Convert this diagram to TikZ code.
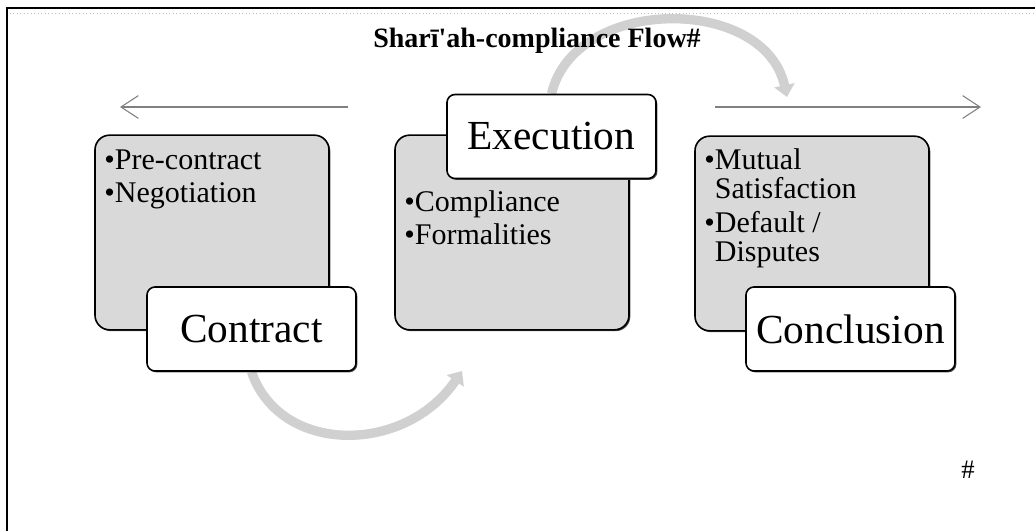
\documentclass[tikz,border=0pt]{standalone}
\usepackage{fontspec}
\setmainfont{Liberation Serif}
\usetikzlibrary{positioning,calc,shadows,arrows.meta,backgrounds}
\definecolor{boxgray}{RGB}{217,217,217}
\definecolor{arcgray}{RGB}{208,208,208}

\begin{document}
\begin{tikzpicture}[
x=0.75pt,y=-0.75pt,
stage/.style={
  draw,
  rounded corners=11pt,
  line width=1.2pt,
  fill=boxgray,
  minimum width=175.5pt,
  minimum height=146pt,
  general shadow={fill=black!70,shadow xshift=1pt,shadow yshift=-1pt}
},
tag/.style={
  draw,
  rounded corners=6pt,
  line width=1.2pt,
  fill=white,
  minimum width=156.75pt,
  minimum height=63pt,
  font=\fontsize{31}{36}\selectfont,
  general shadow={fill=black!70,shadow xshift=1pt,shadow yshift=-1pt}
},
items/.style={
  anchor=north west,
  align=left,
  inner sep=0pt,
  font=\fontsize{22.5}{25}\selectfont
},
flow/.style={line width=7pt, draw=arcgray, -{Triangle[length=9pt,width=15pt]}},
side/.style={draw=gray, line width=0.8pt, -{Straight Barb[length=13pt,width=17pt]}}
]
\useasboundingbox (0,0) rectangle (1035,531);

% frame
\draw[line width=1.5pt] (7,531) -- (7,8) -- (1035,8);
\draw[gray!50, dotted, line width=0.6pt] (10,13) -- (1035,13);

\node[font=\fontsize{21}{25}\selectfont\bfseries] (title) at (537,41)
  {Sharī\textquotesingle ah-compliance Flow\#};

% stages
\node[stage] (contractbox) at (212,232.5) {};
\node[stage] (execbox) at (512,232.5) {};
\node[stage] (conclbox) at (812,233.5) {};

\node[items] (contractitems) at ($(contractbox.north west)+(10,15)$)
  {•Pre-contract\\•Negotiation};
\node[items] (execitems) at ($(execbox.north west)+(10,56)$)
  {•Compliance\\•Formalities};
\node[items] (conclitems) at ($(conclbox.north west)+(10,13)$)
  {•Mutual\\[-3pt]\hphantom{•}Satisfaction\\•Default /\\[-3pt]\hphantom{•}Disputes};

\node[tag] (contractlbl) at (251.5,329) {Contract};
\node[tag] (execlbl) at (551.5,136.5) {Execution};
\node[tag] (concllbl) at (850.5,329) {Conclusion};

% flow arcs
\coordinate (execin) at (462,371);
\coordinate (conclin) at (787,97);
\begin{scope}[on background layer]
\draw[flow] (contractlbl.south) .. controls (280,455) and (405,455) .. (execin);
\draw[flow] (execlbl.north) .. controls (575,-5) and (765,-5) .. (conclin);
\end{scope}

% side arrows
\coordinate (leftfrom) at (348,107);
\coordinate (leftto) at (120,107);
\coordinate (rightfrom) at (715,107);
\coordinate (rightto) at (981,107);
\draw[side] (leftfrom) -- (leftto);
\draw[side] (rightfrom) -- (rightto);

\node[font=\fontsize{20}{24}\selectfont] (hash) at (968,470) {\#};
\end{tikzpicture}
\end{document}
